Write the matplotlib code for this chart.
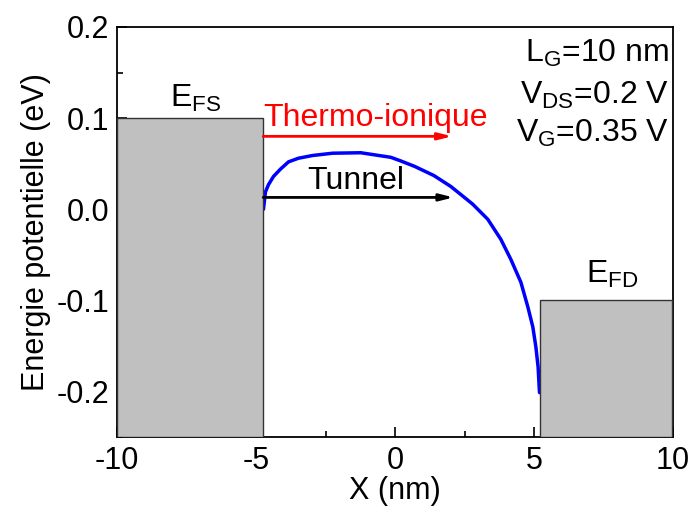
import matplotlib.pyplot as plt
from matplotlib.patches import Rectangle
from matplotlib.ticker import MultipleLocator

plt.rcParams['font.family'] = ['Liberation Sans', 'DejaVu Sans']
plt.rcParams['mathtext.fontset'] = 'custom'
plt.rcParams['mathtext.rm'] = 'Liberation Sans'
plt.rcParams['axes.unicode_minus'] = False

# potential profile along the channel (nm, eV)
x_nm = [-10.0, -4.74, -4.67, -4.56, -4.38, -4.13, -3.84, -3.48, -2.97,
        -2.25, -1.24, -0.16, 0.20, 0.70, 1.39, 2.0, 2.61, 2.79, 3.33, 3.80,
        4.16, 4.52, 4.77, 4.95, 5.06, 5.14, 5.19, 10.0]
e_pot = [0.0, 0.0, 0.019, 0.027, 0.036, 0.044, 0.052, 0.056, 0.059,
         0.0615, 0.062, 0.057, 0.053, 0.047, 0.037, 0.025, 0.010, 0.0055,
         -0.011, -0.033, -0.055, -0.080, -0.107, -0.129, -0.151, -0.173,
         -0.201, -0.201]

# Fermi levels of source and drain
src_x = [-10.0, -4.75]
src_level = 0.1
drn_x = [5.21, 9.95]
drn_level = -0.1
y_bottom = -0.25

fs = 22      # axes text
fs_note = 23  # labels inside the plot

fig = plt.figure(figsize=(6.94, 5.18), dpi=100)
ax = fig.add_axes([0.169, 0.156, 0.801, 0.792])

ax.plot(x_nm, e_pot, color='#0000ff', lw=2.5, zorder=2,
        solid_joinstyle='round')

for (x0, x1), lev in [(src_x, src_level), (drn_x, drn_level)]:
    ax.add_patch(Rectangle((x0, y_bottom), x1 - x0, lev - y_bottom,
                           facecolor='#c0c0c0', edgecolor='#333333',
                           lw=1.0, zorder=3))

# transport arrows
ax.annotate('', xy=(2.05, 0.080), xytext=(-4.75, 0.080),
            arrowprops=dict(arrowstyle='-|>,head_length=0.8,head_width=0.2',
                            color='#ff0000', lw=2, shrinkA=0, shrinkB=0))
ax.annotate('', xy=(2.1, 0.013), xytext=(-4.75, 0.013),
            arrowprops=dict(arrowstyle='-|>,head_length=0.8,head_width=0.2',
                            color='black', lw=2, shrinkA=0, shrinkB=0))

ax.text(-4.75, 0.091, 'Thermo-ionique', color='#ff0000', fontsize=fs_note,
        ha='left', va='baseline')
ax.text(-1.42, 0.022, 'Tunnel', color='black', fontsize=fs_note,
        ha='center', va='baseline')
ax.text(-8.1, 0.113, r'E$_\mathregular{FS}$', fontsize=fs_note, ha='left', va='baseline')
ax.text(6.86, -0.080, r'E$_\mathregular{FD}$', fontsize=fs_note, ha='left', va='baseline')

ax.text(9.85, 0.1615, r'L$_\mathregular{G}$=10 nm', fontsize=fs_note, ha='right', va='baseline')
ax.text(9.85, 0.1154, r'V$_\mathregular{DS}$=0.2 V', fontsize=fs_note, ha='right', va='baseline')
ax.text(9.85, 0.0747, r'V$_\mathregular{G}$=0.35 V', fontsize=fs_note, ha='right', va='baseline')

ax.set_xlim(-10, 10)
ax.set_ylim(-0.25, 0.2)
ax.xaxis.set_major_locator(MultipleLocator(5))
ax.xaxis.set_minor_locator(MultipleLocator(2.5))
ax.yaxis.set_major_locator(MultipleLocator(0.1))
ax.yaxis.set_minor_locator(MultipleLocator(0.05))
ax.yaxis.set_major_formatter(plt.FormatStrFormatter('%.1f'))
ax.tick_params(which='both', direction='in', top=False, right=False,
               labelsize=fs, width=1.2)
ax.tick_params(which='major', length=7, pad=6)
ax.tick_params(which='minor', length=4)
for sp in ax.spines.values():
    sp.set_linewidth(1.3)

ax.set_xlabel('X (nm)', fontsize=fs, labelpad=0)
ax.set_ylabel('Energie potentielle (eV)', fontsize=fs, labelpad=4)

fig.savefig('out.png', dpi=100)
